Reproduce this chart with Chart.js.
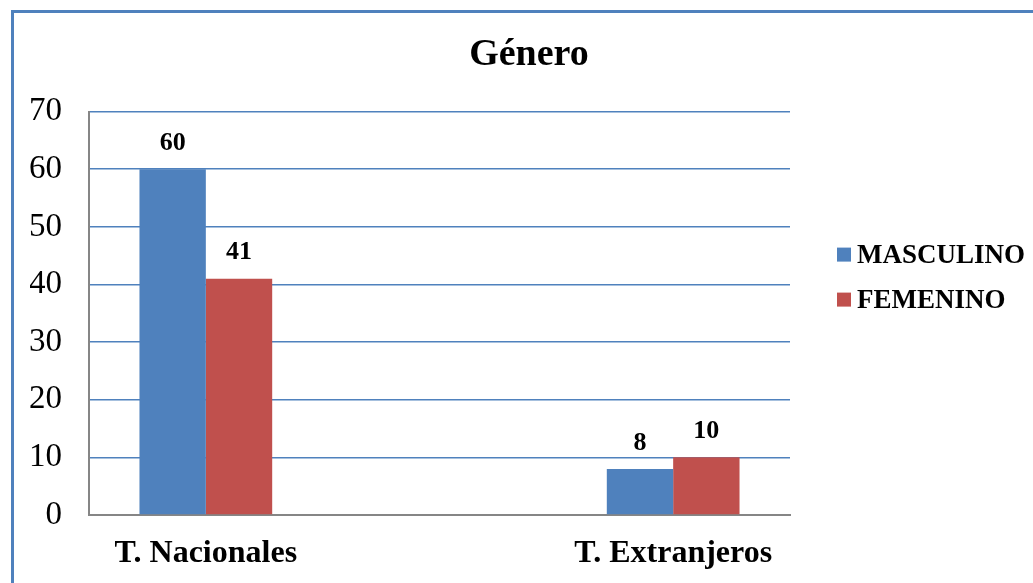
<!DOCTYPE html>
<html lang="es">
<head>
<meta charset="utf-8">
<title>Género</title>
<script src="https://cdn.jsdelivr.net/npm/chart.js@4/dist/chart.umd.min.js"></script>
<style>
  html, body { margin: 0; padding: 0; background: #ffffff; overflow: hidden; }
  #wrap { position: relative; width: 1033px; height: 583px; }
  #marco {
    position: absolute; left: 11px; top: 10px; width: 1100px; height: 700px;
    border-left: 3px solid #4F81BD; border-top: 3px solid #4F81BD;
    pointer-events: none;
  }
  #grafico { position: absolute; left: 0; top: 0; }
</style>
</head>
<body>
<div id="wrap">
  <canvas id="grafico" width="1033" height="583"></canvas>
  <div id="marco"></div>
</div>
<script>
// ===== datos =====
const categorias = ["T. Nacionales", "T. Extranjeros"];
const masculino  = [60, 8];
const femenino   = [41, 10];
const ticksY     = [0, 10, 20, 30, 40, 50, 60, 70];

const AZUL = "#4F81BD";
const ROJO = "#C0504D";
const FUENTE = "'Liberation Serif', 'Times New Roman', serif";

// ── etiquetas de valor encima de cada barra ──
const etiquetas = {
  id: "etiquetas",
  afterDatasetsDraw(chart) {
    const ctx = chart.ctx;
    ctx.save();
    ctx.font = "bold 26px " + FUENTE;
    ctx.fillStyle = "#000";
    ctx.textAlign = "center";
    ctx.textBaseline = "middle";
    chart.data.datasets.forEach((ds, i) => {
      chart.getDatasetMeta(i).data.forEach((bar, j) => {
        ctx.fillText(String(ds.data[j].y), bar.x, bar.y - 26);
      });
    });
    ctx.restore();
  }
};

// ── leyenda a la derecha ──
const leyenda = {
  id: "leyenda",
  afterDraw(chart) {
    const ctx = chart.ctx;
    const x0 = chart.chartArea.right + 47;
    let y = chart.chartArea.top + 143;
    ctx.save();
    ctx.font = "bold 27px " + FUENTE;
    ctx.textAlign = "left";
    ctx.textBaseline = "middle";
    chart.data.datasets.forEach(ds => {
      ctx.fillStyle = ds.backgroundColor;
      ctx.fillRect(x0, y - 7, 14, 14);
      ctx.fillStyle = "#000";
      ctx.fillText(ds.label, x0 + 20, y + 1);
      y += 45;
    });
    ctx.restore();
  }
};

new Chart(document.getElementById("grafico"), {
  type: "bar",
  data: {
    datasets: [
      {
        label: "MASCULINO",
        data: categorias.map((c, i) => ({ x: i, y: masculino[i] })),
        backgroundColor: AZUL
      },
      {
        label: "FEMENINO",
        data: categorias.map((c, i) => ({ x: i, y: femenino[i] })),
        backgroundColor: ROJO
      }
    ]
  },
  plugins: [etiquetas, leyenda],
  options: {
    responsive: false,
    animation: false,
    categoryPercentage: 0.284,
    barPercentage: 1,
    layout: { padding: { left: 30, right: 5, top: 0, bottom: 0 } },
    plugins: {
      legend: { display: false },
      tooltip: { enabled: false },
      title: {
        display: true,
        text: "Género",
        color: "#000",
        font: { family: FUENTE, size: 38, weight: "bold" },
        padding: { top: 32, bottom: 34 }
      }
    },
    scales: {
      x: {
        type: "linear",
        min: -0.25,
        max: 1.25,
        offset: false,
        afterBuildTicks: s => { s.ticks = categorias.map((c, i) => ({ value: i })); },
        afterFit: s => { s.paddingRight = 243; s.height = 68; },
        grid: { display: false, drawTicks: false, offset: false },
        border: { color: "#868686", width: 2 },
        ticks: {
          autoSkip: false,
          maxRotation: 0,
          padding: 20,
          color: "#000",
          font: { family: FUENTE, size: 32, weight: "bold" },
          callback: v => categorias[v]
        }
      },
      y: {
        min: 0,
        max: 70,
        afterBuildTicks: s => { s.ticks = ticksY.map(v => ({ value: v })); },
        afterFit: s => { s.width = 59; },
        grid: { color: AZUL, lineWidth: 1.5, drawTicks: false },
        border: { color: "#868686", width: 2 },
        ticks: {
          padding: 27,
          color: "#000",
          font: { family: FUENTE, size: 33 }
        }
      }
    }
  }
});
</script>
</body>
</html>
